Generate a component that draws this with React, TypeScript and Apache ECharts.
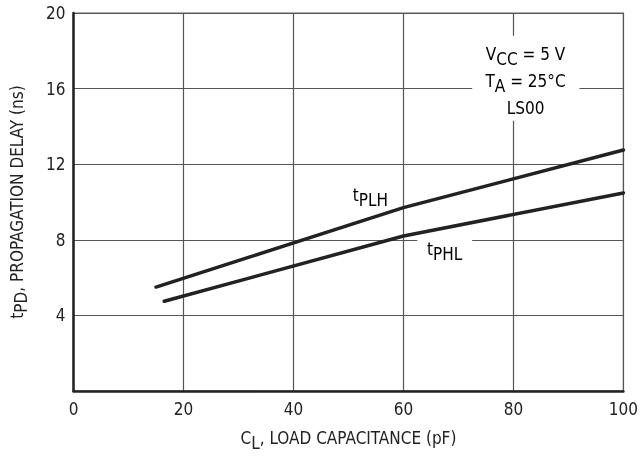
import React, { useEffect, useRef } from "react";
import * as echarts from "echarts";

const xTicks = [0, 20, 40, 60, 80, 100];
const yTicks = [0, 4, 8, 12, 16, 20];
const tPLH = [[15, 5.5], [60, 9.7], [100, 12.75]];
const tPHL = [[16.5, 4.75], [60, 8.2], [100, 10.48]];
const conditionLines = [["V", "CC", " = 5 V"], ["T", "A", " = 25°C"], ["LS00", "", ""]];

const FONT = "'Liberation Sans Narrow', 'Arial Narrow', 'DejaVu Sans Condensed', sans-serif";
const INK = "#222";

export default function App() {
  const ref = useRef<HTMLDivElement>(null);
  useEffect(() => {
    const chart = echarts.init(ref.current!, null, { renderer: "svg" });
    const rich = {
      n: { fontSize: 17, fontFamily: FONT, color: INK },
      s: { fontSize: 17, fontFamily: FONT, color: INK, padding: [9, 0, 0, 0] },
    };
    chart.setOption({
      animation: false,
      grid: { left: 71, right: 13, top: 13, bottom: 70, show: true, borderColor: "#666", borderWidth: 1.2 },
      xAxis: {
        type: "value", min: xTicks[0], max: xTicks[xTicks.length - 1], interval: 20,
        name: "{n|C}{s|L}{n|, LOAD CAPACITANCE (pF)}",
        nameLocation: "middle", nameGap: 34,
        nameTextStyle: { rich },
        axisLine: { show: true, lineStyle: { color: INK, width: 2.5 } },
        axisTick: { show: false },
        axisLabel: { fontSize: 17, fontFamily: FONT, color: INK, margin: 9 },
        splitLine: { show: true, lineStyle: { color: "#555", width: 1.2 } },
      },
      yAxis: {
        type: "value", min: yTicks[0], max: yTicks[yTicks.length - 1], interval: 4,
        name: "{n|t}{s|PD}{n|, PROPAGATION DELAY (ns)}",
        nameLocation: "middle", nameGap: 44,
        nameTextStyle: { rich },
        axisLine: { show: true, lineStyle: { color: INK, width: 2.5 } },
        axisTick: { show: false },
        axisLabel: {
          fontSize: 17, fontFamily: FONT, color: INK, margin: 8,
          formatter: (v: number) => (v === 0 ? "" : String(v)),
        },
        splitLine: { show: true, lineStyle: { color: "#555", width: 1.2 } },
      },
      series: [
        { type: "line", data: tPLH, symbol: "none", lineStyle: { color: INK, width: 3.5, cap: "round" }, z: 5 },
        { type: "line", data: tPHL, symbol: "none", lineStyle: { color: INK, width: 3.5, cap: "round" }, z: 5 },
      ],
    });
    const px = (p: number[]) => chart.convertToPixel({ gridIndex: 0 }, p) as number[];
    const box1a = px([72.5, 18.8]);
    const box1b = px([92, 14.3]);
    const box2a = px([62.5, 8.6]);
    const box2b = px([72.5, 7.0]);
    const lblPLH = px([54, 10.35]);
    const lblPHL = px([67.5, 7.5]);
    const cond = px([82.2, 16.4]);
    const textRich = {
      n: { fontSize: 17, fontFamily: FONT, color: INK, lineHeight: 27 },
      s: { fontSize: 17, fontFamily: FONT, color: INK, padding: [9, 0, 0, 0], lineHeight: 27 },
    };
    chart.setOption({
      graphic: [
        { type: "rect", z: 2, shape: { x: box1a[0], y: box1a[1], width: box1b[0] - box1a[0], height: box1b[1] - box1a[1] }, style: { fill: "#fff" } },
        { type: "rect", z: 2, shape: { x: box2a[0], y: box2a[1], width: box2b[0] - box2a[0], height: box2b[1] - box2a[1] }, style: { fill: "#fff" } },
        {
          type: "text", z: 11, x: cond[0], y: cond[1],
          style: {
            text: conditionLines.map((l) => (l[1] ? `{n|${l[0]}}{s|${l[1]}}{n|${l[2]}}` : `{n|${l[0]}}`)).join("\n"),
            rich: textRich, align: "center", verticalAlign: "middle",
          },
        },
        { type: "text", z: 11, x: lblPLH[0], y: lblPLH[1], style: { text: "{n|t}{s|PLH}", rich: textRich, align: "center", verticalAlign: "middle" } },
        { type: "text", z: 11, x: lblPHL[0], y: lblPHL[1], style: { text: "{n|t}{s|PHL}", rich: textRich, align: "center", verticalAlign: "middle" } },
      ],
    });
    return () => chart.dispose();
  }, []);
  return <div ref={ref} style={{ position: "fixed", left: 0, top: 0, width: 641, height: 461 }} />;
}
